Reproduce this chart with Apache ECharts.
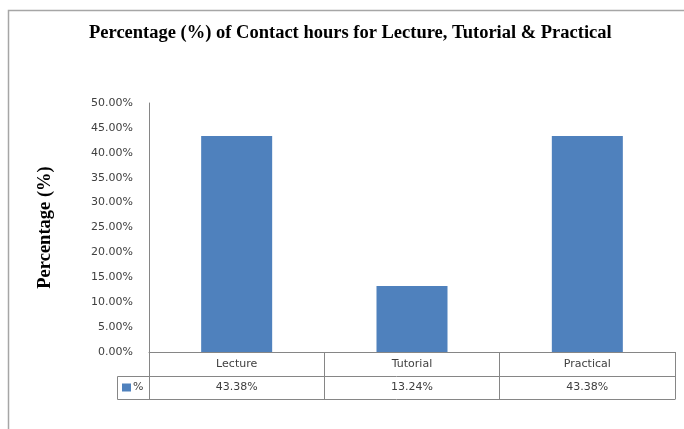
<!DOCTYPE html>
<html>
<head>
<meta charset="utf-8">
<script src="https://cdn.jsdelivr.net/npm/echarts@6/dist/echarts.min.js"></script>
<style>
html,body{margin:0;padding:0;background:#fff;}
#chart{width:684px;height:429px;}
</style>
</head>
<body>
<div id="chart"></div>
<script>
var categories = ['Lecture', 'Tutorial', 'Practical'];
var values = [0.4338, 0.1324, 0.4338];
var seriesName = '%';
var yTicks = { min: 0, max: 0.5, interval: 0.05 };

function pct(v) { return (v * 100).toFixed(2) + '%'; }

var chart = echarts.init(document.getElementById('chart'));
var axisColor = '#868686';
var textColor = '#404040';
var sans = 'DejaVu Sans';
var serif = 'Liberation Serif';

chart.setOption({
  animation: false,
  backgroundColor: '#fff',
  title: {
    text: 'Percentage (%) of Contact hours for Lecture, Tutorial & Practical',
    left: 89,
    top: 24,
    padding: 0,
    textStyle: { fontFamily: serif, fontWeight: 'bold', fontSize: 18.5, color: '#000' }
  },
  legend: {
    data: [seriesName],
    left: 122,
    top: 382,
    icon: 'rect',
    itemWidth: 9,
    itemHeight: 8,
    itemGap: 0,
    padding: 0,
    textStyle: { fontFamily: sans, fontSize: 11, color: textColor, padding: [0, 0, 0, -3] }
  },
  grid: { left: 149, right: 9, top: 103, bottom: 77 },
  xAxis: [{
    type: 'category',
    data: categories,
    position: 'bottom',
    axisLine: { show: true, lineStyle: { color: axisColor, width: 1 } },
    axisTick: { show: true, length: 47, lineStyle: { color: axisColor, width: 1 } },
    axisLabel: { margin: 0, lineHeight: 24, fontFamily: sans, fontSize: 11, color: textColor }
  }, {
    type: 'category',
    data: categories,
    position: 'bottom',
    offset: 24,
    axisLine: { show: false },
    axisTick: { show: false },
    axisLabel: {
      margin: 0, lineHeight: 23, fontFamily: sans, fontSize: 11, color: textColor,
      formatter: function (v, i) { return pct(values[i]); }
    }
  }],
  yAxis: {
    type: 'value',
    min: yTicks.min,
    max: yTicks.max,
    interval: yTicks.interval,
    name: 'Percentage (%)',
    nameLocation: 'middle',
    nameRotate: 90,
    nameGap: 94,
    nameTextStyle: { fontFamily: serif, fontWeight: 'bold', fontSize: 18.5, color: '#000' },
    axisLine: { show: true, lineStyle: { color: axisColor, width: 1 } },
    axisTick: { show: false },
    splitLine: { show: false },
    axisLabel: { margin: 16, fontFamily: sans, fontSize: 11, color: textColor, formatter: pct }
  },
  series: [{
    name: seriesName,
    type: 'bar',
    data: values,
    barWidth: '40.5%',
    itemStyle: { color: '#4F81BD' }
  }]
});

// table lines positioned from the axes
var x0 = chart.convertToPixel({ xAxisIndex: 0 }, categories[0]);
var x2 = chart.convertToPixel({ xAxisIndex: 0 }, categories[2]);
var half = (x2 - x0) / 4;
var right = Math.round(x2 + half) + 0.5;
var yBase = Math.round(chart.convertToPixel({ yAxisIndex: 0 }, 0));
var row1 = yBase + 24 + 0.5, row2 = yBase + 47 + 0.5;
var legLeft = 117.5;
var ls = { stroke: axisColor, lineWidth: 1 };
chart.setOption({
  graphic: [
    { type: 'line', shape: { x1: legLeft, y1: row1, x2: right, y2: row1 }, style: ls, silent: true },
    { type: 'line', shape: { x1: legLeft, y1: row2, x2: right, y2: row2 }, style: ls, silent: true },
    { type: 'line', shape: { x1: legLeft, y1: row1, x2: legLeft, y2: row2 }, style: ls, silent: true },
    { type: 'rect', shape: { x: 8.5, y: 10.5, width: 700, height: 440 }, style: { fill: 'none', stroke: '#a6a6a6', lineWidth: 1.5 }, silent: true }
  ]
});
</script>
</body>
</html>
